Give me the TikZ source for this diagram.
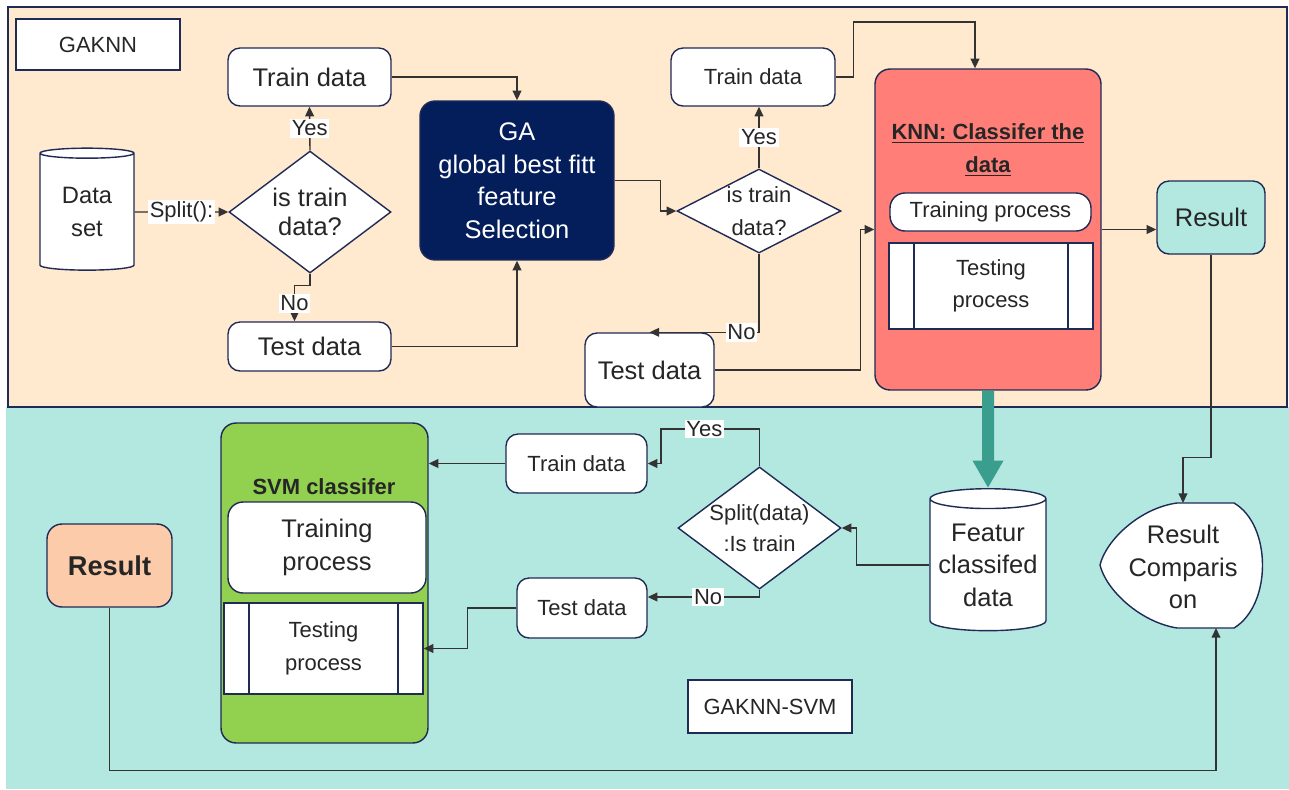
\documentclass[tikz,border=0pt]{standalone}
\usepackage{fontspec}
\setmainfont{Liberation Sans}
\usetikzlibrary{arrows.meta,shapes.geometric}
\definecolor{peach}{HTML}{FFE9CF}
\definecolor{aqua}{HTML}{B3E8E1}
\definecolor{navy}{HTML}{1F2A55}
\definecolor{gablue}{HTML}{041E5C}
\definecolor{knnred}{HTML}{FF7F78}
\definecolor{svmgreen}{HTML}{92D050}
\definecolor{resorange}{HTML}{FCCBA9}
\definecolor{seagreen}{HTML}{3A9E8E}
\definecolor{txt}{HTML}{262626}
\definecolor{wirec}{HTML}{333333}
\newcommand{\fsm}{\fontsize{12.5}{18.5}\selectfont}
\newcommand{\fbg}{\fontsize{14.5}{18.5}\selectfont}

\begin{document}
\begin{tikzpicture}[x=0.02cm,y=-0.02cm,
  >={Triangle[length=5.5pt,width=5pt]},
  nd/.style={draw=navy,line width=0.8pt,text=txt,align=center,inner sep=0pt},
  rbox/.style={nd,fill=white,rounded corners=0.24cm},
  cond/.style={nd,fill=white,diamond},
  drum/.style={nd,fill=white,cylinder,shape border rotate=90,aspect=0.2},
  predef/.style={nd,fill=white,path picture={\draw[navy,line width=0.8pt] ([xshift=0.5cm]path picture bounding box.north west) -- ([xshift=0.5cm]path picture bounding box.south west) ([xshift=-0.5cm]path picture bounding box.north east) -- ([xshift=-0.5cm]path picture bounding box.south east);}},
  wire/.style={draw=wirec,line width=0.8pt},
  lbl/.style={fill=white,inner sep=1pt,font=\fsm,text=txt}]
  \useasboundingbox (0,0) rectangle (1289,789);
  \fill[aqua] (6,407) rectangle (1289,789);
  \draw[navy,line width=0.8pt,fill=peach] (8,7) rectangle (1287,407);

  \node[nd,fill=white,minimum width=3.28cm,minimum height=1.02cm,font=\fsm] (gk) at (98,44.5) {GAKNN};
  \node[drum,minimum width=1.88cm,minimum height=2.44cm,font={\fontsize{13.5}{18.5}\selectfont}] (ds) at (87,212) {Data\\set};
  \node[cond,aspect=1.33,minimum width=3.24cm,minimum height=2.44cm,font={\fontsize{14.5}{16.5}\selectfont}] (d1) at (310,212) {is train\\data?};
  \node[rbox,minimum width=3.26cm,minimum height=1.16cm,font=\fbg] (tr1) at (309.5,77) {Train data};
  \node[rbox,minimum width=3.26cm,minimum height=0.98cm,font=\fbg] (te1) at (309.5,346.5) {Test data};
  \node[nd,fill=gablue,rounded corners=0.3cm,text=white,minimum width=3.88cm,minimum height=3.18cm,font=\fbg] (ga) at (517,180.5) {GA\\global best fitt\\feature\\Selection};
  \node[cond,aspect=1.95,minimum width=3.28cm,minimum height=1.68cm,font=\fsm] (d2) at (759,211) {is train\\data?};
  \node[rbox,minimum width=3.28cm,minimum height=1.16cm,font=\fsm] (tr2) at (753,77) {Train data};
  \node[rbox,minimum width=2.58cm,minimum height=1.48cm,font=\fbg] (te2) at (649.5,370) {Test data};
  \node[nd,fill=knnred,rounded corners=0.3cm,minimum width=4.52cm,minimum height=6.42cm] (knn) at (988,229.5) {};
  \node[font=\bfseries\fontsize{12.5}{18.5}\selectfont,text=txt,align=center] (kt) at (988,150) {\underline{KNN: Classifer the}\\\underline{data}};
  \node[rbox,rounded corners=0.3cm,minimum width=4.02cm,minimum height=0.76cm,font=\fsm] (ktr) at (990.5,212) {Training process};
  \node[predef,minimum width=4.08cm,minimum height=1.72cm,font=\fsm] (kte) at (991,286) {Testing\\process};
  \node[rbox,fill=aqua,minimum width=2.16cm,minimum height=1.46cm,font=\fbg] (r1) at (1211,217.5) {Result};
  \node[drum,minimum width=2.32cm,minimum height=2.84cm,font=\fbg] (fc) at (988,565) {Featur\\classifed\\data};
  \node[cond,aspect=1.33,minimum width=3.26cm,minimum height=2.44cm,font={\fontsize{12.5}{17.5}\selectfont}] (d3) at (759.5,528) {Split(data)\\:Is train};
  \node[rbox,minimum width=2.82cm,minimum height=1.18cm,font=\fsm] (tr3) at (576.5,463.5) {Train data};
  \node[rbox,minimum width=2.6cm,minimum height=1.2cm,font=\fsm] (te3) at (582,608) {Test data};
  \node[nd,fill=svmgreen,rounded corners=0.3cm,minimum width=4.14cm,minimum height=6.4cm] (svm) at (324.5,583) {};
  \node[font=\bfseries\fsm,text=txt] (st) at (324,487) {SVM classifer};
  \node[rbox,rounded corners=0.3cm,minimum width=3.96cm,minimum height=1.82cm,font=\fbg] (str) at (327,547.5) {Training\\process};
  \node[predef,minimum width=3.98cm,minimum height=1.82cm,font=\fsm] (ste) at (323.5,648.5) {Testing\\process};
  \node[rbox,fill=resorange,rounded corners=0.3cm,minimum width=2.5cm,minimum height=1.66cm,font=\bfseries\fontsize{15.5}{18}\selectfont] (r2) at (109.5,565.5) {Result};
  \node[nd,fill=white,minimum width=3.28cm,minimum height=1.06cm,font=\fsm] (gs) at (770,706.5) {GAKNN-SVM};
  \draw[navy,line width=0.8pt,fill=white] (1177,503) -- (1234,503) .. controls (1272,525) and (1272,605) .. (1234,628) -- (1177,628) .. controls (1140,622) and (1106,590) .. (1100,565) .. controls (1106,540) and (1140,508) .. (1177,503);
  \node[font=\fbg,text=txt,align=center] (cmp) at (1183,567) {Result\\Comparis\\on};
  \coordinate (cmpN) at (1183,503);
  \coordinate (cmpS) at (1216,628);
  \coordinate (kin) at (975,22);
  \coordinate (yj) at (661,429);

  \draw[wire,->] (ds.east) -- node[lbl]{Split():} (d1.west);
  \draw[wire,->] (d1.north) -- node[lbl]{Yes} (tr1.south);
  \draw[wire,->] (d1.south) -- ++(0,12) -| node[lbl,pos=0.75]{No} ([xshift=-0.3cm]te1.north);
  \draw[wire,->] (tr1.east) -| (ga.north);
  \draw[wire,->] (te1.east) -| (ga.south);
  \draw[wire,->] (ga.east) -- ++(46,0) |- (d2.west);
  \draw[wire,->] (d2.north) -- node[lbl]{Yes} (d2.north |- tr2.south);
  \draw[wire,->] (d2.south) |- node[lbl,pos=0.58]{No} (te2.north);
  \draw[wire,->] (te2.east) -- ++(146,0) |- (knn.west);
  \draw[wire,->] (tr2.east) -- ++(18,0) |- (kin) -- (kin |- knn.north);
  \draw[wire,->] (knn.east) -- (knn.east -| r1.west);
  \draw[wire,->] (r1.south) -- ++(0,203) -| (cmpN);
  \draw[seagreen,line width=0.24cm,-{Triangle[length=0.55cm,width=0.58cm]}] (knn.south) -- (fc.north);
  \draw[wire,->] (fc.west) -- ++(-73,0) |- (d3.east);
  \draw[wire,->] (d3.north) |- node[lbl,pos=0.78]{Yes} (yj) |- (tr3.east);
  \draw[wire,->] (d3.south) |- node[lbl,pos=0.73]{No} ([yshift=0.22cm]te3.east);
  \draw[wire,->] (te3.west) -- ++(-49,0) |- (ste.east);
  \draw[wire,->] (tr3.west) -- (tr3.west -| svm.east);
  \draw[wire,->] (r2.south) -- ++(0,163) -| (cmpS);
\end{tikzpicture}
\end{document}
